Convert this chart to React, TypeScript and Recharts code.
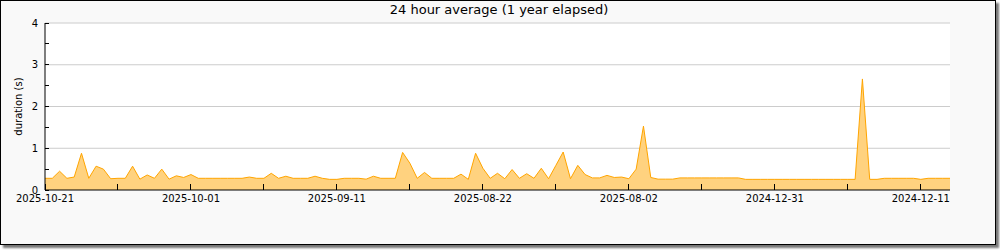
import { Area, AreaChart, CartesianGrid, XAxis, YAxis } from "recharts"

// one value per day (seconds)
const durations = [
  0.28, 0.28, 0.45, 0.28, 0.31, 0.88, 0.28, 0.57, 0.5, 0.27,
  0.28, 0.28, 0.57, 0.26, 0.36, 0.28, 0.5, 0.26, 0.34, 0.3,
  0.37, 0.28, 0.28, 0.28, 0.28, 0.28, 0.28, 0.28, 0.31, 0.28,
  0.28, 0.4, 0.28, 0.33, 0.28, 0.28, 0.28, 0.33, 0.28, 0.255,
  0.255, 0.28, 0.28, 0.28, 0.26, 0.33, 0.28, 0.28, 0.28, 0.9,
  0.64, 0.28, 0.42, 0.28, 0.28, 0.28, 0.28, 0.38, 0.255, 0.88,
  0.52, 0.28, 0.4, 0.27, 0.49, 0.28, 0.39, 0.28, 0.52, 0.27,
  0.59, 0.91, 0.27, 0.59, 0.37, 0.29, 0.29, 0.35, 0.3, 0.31,
  0.27, 0.5, 1.53, 0.3, 0.26, 0.26, 0.26, 0.29, 0.29, 0.29,
  0.29, 0.29, 0.29, 0.29, 0.29, 0.29, 0.255, 0.255, 0.255, 0.255,
  0.255, 0.255, 0.255, 0.255, 0.255, 0.255, 0.255, 0.255, 0.255, 0.255,
  0.255, 0.255, 2.66, 0.255, 0.255, 0.28, 0.28, 0.28, 0.28, 0.28,
  0.255, 0.28, 0.28, 0.28, 0.28,
]

const xTicks = [0, 10, 20, 30, 40, 50, 60, 70, 80, 90, 100, 110, 120]
const dateLabels = ["2025-10-21", "2025-10-01", "2025-09-11", "2025-08-22", "2025-08-02", "2024-12-31", "2024-12-11"]
const yTicks = [0, 0.5, 1, 1.5, 2, 2.5, 3, 3.5, 4]
const gridValues = [1, 2, 3, 4]

const data = durations.map((v, i) => ({ day: i, duration: v }))

const font = "'DejaVu Sans', sans-serif"

function XTick({ x, y, payload }: any) {
  const idx = xTicks.indexOf(payload.value)
  const label = idx % 2 === 0 ? dateLabels[idx / 2] : ""
  return (
    <g>
      <line x1={x} x2={x} y1={y} y2={y - 6} stroke="#000" shapeRendering="crispEdges" />
      {label && (
        <text x={x} y={y + 12} textAnchor="middle" fontSize={10} fill="#000" fontFamily={font}>
          {label}
        </text>
      )}
    </g>
  )
}

function YTick({ x, y, payload }: any) {
  const v = payload.value
  return (
    <g>
      <line x1={x} x2={x + 4} y1={y} y2={y} stroke="#000" shapeRendering="crispEdges" />
      {Number.isInteger(v) && (
        <text x={x - 7} y={y} dy="0.36em" textAnchor="end" fontSize={10} fill="#000" fontFamily={font}>
          {v}
        </text>
      )}
    </g>
  )
}

export default function App() {
  return (
    <div style={{ position: "relative", width: 1000, height: 250, fontFamily: font }}>
      <style>{"body{margin:0}"}</style>
      <div
        style={{
          position: "absolute",
          left: 0,
          top: 0,
          width: 994,
          height: 243,
          border: "1px solid #000",
          background: "#f9f9f9",
          boxShadow: "3px 3px 2px #777",
        }}
      />
      <div
        style={{
          position: "absolute",
          left: 0,
          top: 2,
          width: 998,
          textAlign: "center",
          fontSize: 13,
          lineHeight: "16px",
          color: "#000",
        }}
      >
        24 hour average (1 year elapsed)
      </div>
      <div style={{ position: "absolute", left: 0, top: 0 }}>
        <AreaChart width={1000} height={250} data={data} margin={{ top: 23, right: 50, bottom: 0, left: 0 }}>
          <CartesianGrid horizontalValues={gridValues} vertical={false} stroke="#ccc" fill="#fff" />
          <XAxis
            dataKey="day"
            type="number"
            domain={[0, 124]}
            ticks={xTicks}
            height={60}
            tickSize={0}
            tickMargin={0}
            tickLine={false}
            tick={<XTick />}
            axisLine={{ stroke: "#000" }}
            interval={0}
          />
          <YAxis
            domain={[0, 4]}
            ticks={yTicks}
            width={45}
            tickSize={0}
            tickMargin={0}
            tickLine={false}
            tick={<YTick />}
            axisLine={{ stroke: "#000" }}
            interval={0}
            label={{
              value: "duration (s)",
              angle: -90,
              position: "insideLeft",
              offset: 18,
              textAnchor: "middle",
              style: { fontSize: 10, fill: "#000", fontFamily: font, textAnchor: "middle" },
            }}
          />
          <Area
            type="linear"
            dataKey="duration"
            stroke="#ffa500"
            strokeWidth={1}
            fill="#ffd27f"
            fillOpacity={1}
            isAnimationActive={false}
          />
        </AreaChart>
      </div>
    </div>
  )
}
